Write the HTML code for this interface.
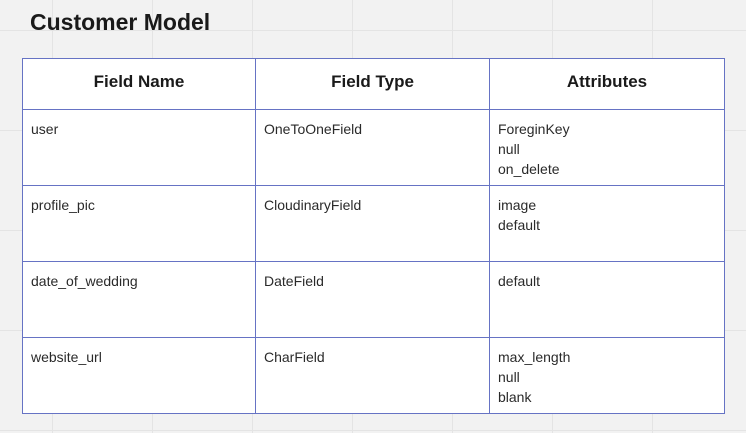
<!DOCTYPE html>
<html><head><style>
html,body{margin:0;padding:0;}
body{width:746px;height:433px;overflow:hidden;position:relative;background:#f2f2f2;
background-image:linear-gradient(to right,#e4e4e4 1px,transparent 1px),linear-gradient(to bottom,#e4e4e4 1px,transparent 1px);
background-size:100px 100px;background-position:52px 30px;font-family:"Liberation Sans",sans-serif;color:#1d1d1d;}
h1{position:absolute;left:30px;top:9px;margin:0;font-size:23px;font-weight:bold;color:#1a1a1a;}
table{position:absolute;left:22px;top:58px;width:702px;table-layout:fixed;border-collapse:collapse;background:#fff;}
td,th{border:1.5px solid #6673c4;vertical-align:top;padding:0 8px;}
th{height:51px;font-size:17px;font-weight:bold;text-align:center;vertical-align:middle;color:#1a1a1a;padding-bottom:4px;box-sizing:border-box;}
td{height:76px;font-size:14px;line-height:20px;padding-top:9px;box-sizing:border-box;color:#2a2a2a;}
</style></head><body>
<h1>Customer Model</h1>
<table>
<colgroup><col style="width:233px"><col style="width:234px"><col style="width:235px"></colgroup>
<tr><th>Field Name</th><th>Field Type</th><th>Attributes</th></tr>
<tr><td>user</td><td>OneToOneField</td><td>ForeginKey<br>null<br>on_delete</td></tr>
<tr><td>profile_pic</td><td>CloudinaryField</td><td>image<br>default</td></tr>
<tr><td>date_of_wedding</td><td>DateField</td><td>default</td></tr>
<tr><td>website_url</td><td>CharField</td><td>max_length<br>null<br>blank</td></tr>
</table>
</body></html>
